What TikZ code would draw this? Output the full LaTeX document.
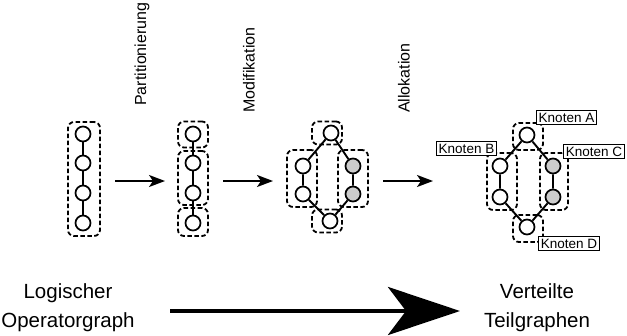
\documentclass[tikz,border=0pt]{standalone}
\usepackage{fontspec}
\setmainfont{Liberation Sans}
\usetikzlibrary{arrows.meta}
\begin{document}
\begin{tikzpicture}[x=1pt,y=-1pt,
  grp/.style={draw, dash pattern=on 4.5pt off 2.5pt, line width=1.8pt, rounded corners=6pt, inner sep=0pt},
  vx/.style={circle, draw, fill=white, minimum size=15pt, inner sep=0pt, line width=1.7pt},
  gvx/.style={vx, fill=black!20},
  edge/.style={line width=1.9pt},
  step arrow/.style={line width=1.8pt, -{Stealth[length=16pt, width=12pt, inset=4pt]}},
  big arrow/.style={line width=4.5pt, -{Stealth[length=72pt, width=48pt, inset=18pt]}},
  steplabel/.style={rotate=90, anchor=west, inner sep=0pt, font=\fontsize{16}{18}\selectfont},
  knoten/.style={draw, fill=white, line width=0.8pt, inner sep=2.5pt, font=\fontsize{13.5}{15}\selectfont},
  endtext/.style={align=center, inner sep=0pt, font=\fontsize{20.5}{29}\selectfont}
]
\useasboundingbox (0,0) rectangle (627,335);

% ---------- Graph 1 ----------
\node[grp, minimum width=32pt, minimum height=114pt] (b1) at (84,179) {};
\node[vx] (a1) at (83,134) {};
\node[vx] (a2) at (83,163) {};
\node[vx] (a3) at (83,193) {};
\node[vx] (a4) at (83,223) {};
\draw[edge] (a1) -- (a2) (a2) -- (a3) (a3) -- (a4);

% ---------- Graph 2 ----------
\node[grp, minimum width=30pt, minimum height=26pt] (b2t) at (193,134.5) {};
\node[grp, minimum width=30pt, minimum height=54pt] (b2m) at (193,178) {};
\node[grp, minimum width=30pt, minimum height=28pt] (b2b) at (193,222) {};
\node[vx] (c1) at (193,134) {};
\node[vx] (c2) at (193,163) {};
\node[vx] (c3) at (193,193) {};
\node[vx] (c4) at (193,223) {};
\draw[edge] (c1) -- (c2) (c2) -- (c3) (c3) -- (c4);

% ---------- Graph 3 ----------
\node[grp, minimum width=30pt, minimum height=23pt] (b3t) at (327,133) {};
\node[grp, minimum width=30pt, minimum height=57pt] (b3l) at (302,178.5) {};
\node[grp, minimum width=30pt, minimum height=57pt] (b3r) at (353,178.5) {};
\node[grp, minimum width=30pt, minimum height=23pt] (b3b) at (327,221) {};
\node[vx] (d1) at (331,133) {};
\node[vx] (d2) at (303,166) {};
\node[vx] (d3) at (303,194) {};
\node[gvx] (d4) at (353,166) {};
\node[gvx] (d5) at (353,194) {};
\node[vx] (d6) at (330,221) {};
\draw[edge] (d1) -- (d2) (d2) -- (d3) (d3) -- (d6) (d1) -- (d4) (d4) -- (d5) (d5) -- (d6);

% ---------- Graph 4 ----------
\node[grp, minimum width=30pt, minimum height=27pt] (b4t) at (528,136.5) {};
\node[grp, minimum width=30pt, minimum height=57pt] (b4l) at (502,181.5) {};
\node[grp, minimum width=28pt, minimum height=57pt] (b4r) at (554,181.5) {};
\node[grp, minimum width=30pt, minimum height=27pt] (b4b) at (528,228.5) {};
\node[vx] (e1) at (527,135) {};
\node[vx] (e2) at (500,166) {};
\node[vx] (e3) at (500,197) {};
\node[gvx] (e4) at (553,166) {};
\node[gvx] (e5) at (553,197) {};
\node[vx] (e6) at (527,227) {};
\draw[edge] (e1) -- (e2) (e2) -- (e3) (e3) -- (e6) (e1) -- (e4) (e4) -- (e5) (e5) -- (e6);

\node[knoten] (kA) at (566.5,117.5) {Knoten A};
\node[knoten] (kB) at (466.5,148.5) {Knoten B};
\node[knoten] (kC) at (594,151.5) {Knoten C};
\node[knoten] (kD) at (569,243.5) {Knoten D};

% ---------- step arrows ----------
\coordinate (s1a) at (115,181); \coordinate (s1b) at (165,181);
\coordinate (s2a) at (223,181); \coordinate (s2b) at (273,181);
\coordinate (s3a) at (383,181); \coordinate (s3b) at (433,181);
\draw[step arrow] (s1a) -- (s1b);
\draw[step arrow] (s2a) -- (s2b);
\draw[step arrow] (s3a) -- (s3b);

\node[steplabel] (l1) at (142,106) {Partitionierung};
\node[steplabel] (l2) at (249,113) {Modifikation};
\node[steplabel] (l3) at (404,113) {Allokation};

% ---------- bottom ----------
\node[endtext] (from) at (68,308) {Logischer\\Operatorgraph};
\node[endtext] (to) at (537,308) {Verteilte\\Teilgraphen};
\coordinate (ba) at (170,311);
\coordinate (bb) at (460,311);
\draw[big arrow] (ba) -- (bb);
\end{tikzpicture}
\end{document}
